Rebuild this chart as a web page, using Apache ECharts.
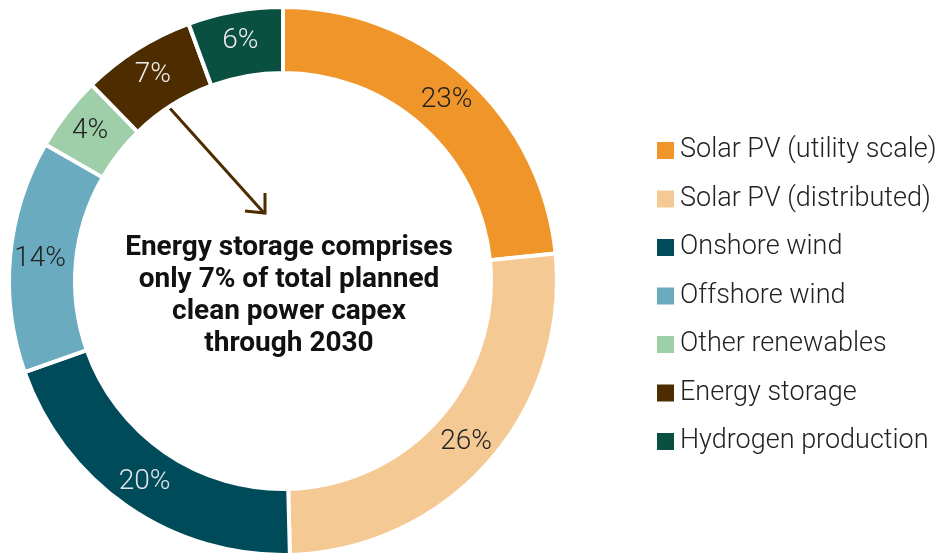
<!DOCTYPE html>
<html>
<head>
<meta charset="utf-8">
<script src="https://cdn.jsdelivr.net/npm/echarts@6/dist/echarts.min.js"></script>
<style>
  html, body { margin: 0; padding: 0; background: #fff; }
  #chart { width: 943px; height: 556px; }
</style>
</head>
<body>
<div id="chart"></div>
<script>
// Clean power capex split through 2030 (share, %)
var categories = ['Solar PV (utility scale)', 'Solar PV (distributed)', 'Onshore wind', 'Offshore wind', 'Other renewables', 'Energy storage', 'Hydrogen production'];
var shares = [23.4, 26.2, 20.0, 13.7, 4.4, 6.7, 5.6];
var colors = ['#F0952A', '#F5C994', '#004B5A', '#6AABBF', '#9ECFA8', '#4D2C00', '#0A5040'];
var labelColors = ['#222', '#222', '#dfe6e8', '#222', '#222', '#eee', '#eee'];
var centerText = 'Energy storage comprises\nonly 7% of total planned\nclean power capex\nthrough 2030';

document.addEventListener('DOMContentLoaded', function() {
  var dom = document.getElementById('chart');
  var chart = echarts.init(dom, null, {renderer: 'canvas'});

  var data = categories.map(function(name, i) {
    return {
      name: name,
      value: shares[i],
      itemStyle: {color: colors[i]},
      label: {color: labelColors[i]}
    };
  });

  var arrowColor = '#4D2C00';

  var option = {
    animation: false,
    textStyle: {fontFamily: 'Roboto'},
    title: {
      text: centerText,
      left: 284,
      top: 227,
      textAlign: 'center',
      textStyle: {
        fontFamily: 'Roboto',
        fontSize: 28,
        fontWeight: 'bold',
        lineHeight: 32,
        color: '#111'
      }
    },
    legend: {
      orient: 'vertical',
      left: 650,
      top: 132,
      icon: 'rect',
      itemWidth: 19,
      itemHeight: 19,
      itemGap: 21.5,
      selectedMode: false,
      textStyle: {
        fontFamily: 'Roboto',
        fontWeight: 300,
        fontSize: 27,
        lineHeight: 27,
        color: '#222'
      },
      data: categories
    },
    series: [{
      type: 'pie',
      center: [283, 281],
      radius: [208, 274],
      startAngle: 90,
      clockwise: true,
      avoidLabelOverlap: false,
      itemStyle: {borderColor: '#fff', borderWidth: 4},
      label: {
        show: true,
        position: 'inside',
        fontFamily: 'Roboto',
        fontWeight: 300,
        fontSize: 28,
        formatter: function(p) { return Math.round(p.value) + '%'; }
      },
      labelLine: {show: false},
      emphasis: {disabled: true},
      data: data
    }],
    graphic: [{
      type: 'group',
      silent: true,
      children: [{
        type: 'line',
        shape: {x1: 167, y1: 105, x2: 264, y2: 213},
        style: {stroke: arrowColor, lineWidth: 3}
      }, {
        type: 'polyline',
        shape: {points: [[265, 193], [265, 213], [245, 211]]},
        style: {stroke: arrowColor, lineWidth: 3, fill: null}
      }]
    }]
  };

  chart.setOption(option, true);
});
</script>
</body>
</html>
